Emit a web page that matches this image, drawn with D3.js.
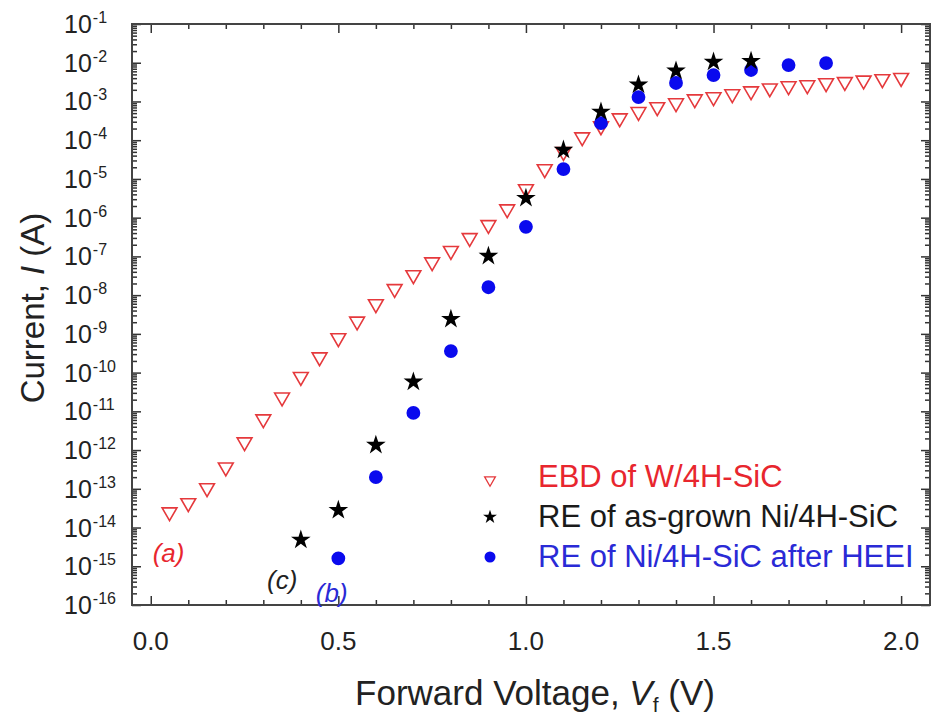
<!DOCTYPE html>
<html>
<head>
<meta charset="utf-8">
<script src="https://cdn.jsdelivr.net/npm/d3@7"></script>
<style>
  body { margin: 0; background: #fff; }
  svg text { font-family: "Liberation Sans", Arial, sans-serif; }
</style>
</head>
<body>
<svg id="chart" width="932" height="720"></svg>
<script>
// EBD of W/4H-SiC, 0.05 V steps
const ebdVoltage = [0.05, 0.10, 0.15, 0.20, 0.25, 0.30, 0.35, 0.40, 0.45, 0.50,
  0.55, 0.60, 0.65, 0.70, 0.75, 0.80, 0.85, 0.90, 0.95, 1.00,
  1.05, 1.10, 1.15, 1.20, 1.25, 1.30, 1.35, 1.40, 1.45, 1.50,
  1.55, 1.60, 1.65, 1.70, 1.75, 1.80, 1.85, 1.90, 1.95, 2.00];
const ebdCurrent = [2.5e-14, 4.3e-14, 1.05e-13, 3.6e-13, 1.6e-12, 6.3e-12, 2.3e-11, 7.8e-11, 2.5e-10, 7.8e-10,
  2.1e-9, 5.9e-9, 1.45e-8, 3.3e-8, 7.1e-8, 1.4e-7, 3.0e-7, 6.5e-7, 1.66e-6, 5.5e-6,
  1.8e-5, 5.0e-5, 1.2e-4, 2.3e-4, 3.7e-4, 5.4e-4, 7.2e-4, 9.1e-4, 1.15e-3, 1.3e-3,
  1.55e-3, 1.85e-3, 2.2e-3, 2.5e-3, 2.65e-3, 3.0e-3, 3.2e-3, 3.5e-3, 3.8e-3, 4.1e-3];

// RE of as-grown Ni/4H-SiC
const asGrownVoltage = [0.4, 0.5, 0.6, 0.7, 0.8, 0.9, 1.0, 1.1, 1.2, 1.3, 1.4, 1.5, 1.6];
const asGrownCurrent = [4.8e-15, 2.8e-14, 1.35e-12, 5.8e-11, 2.4e-9, 1.02e-7, 3.2e-6, 5.6e-5, 5.4e-4, 2.7e-3, 6.2e-3, 1.05e-2, 1.1e-2];

// RE of Ni/4H-SiC after HEEI
const heeiVoltage = [0.5, 0.6, 0.7, 0.8, 0.9, 1.0, 1.1, 1.2, 1.3, 1.4, 1.5, 1.6, 1.7, 1.8];
const heeiCurrent = [1.6e-15, 2.0e-13, 9.1e-12, 3.6e-10, 1.6e-8, 5.8e-7, 1.8e-5, 2.75e-4, 1.3e-3, 3.0e-3, 4.8e-3, 6.5e-3, 8.7e-3, 9.8e-3];

const xTickValues = [0.0, 0.5, 1.0, 1.5, 2.0];
const xTickLabels = ["0.0", "0.5", "1.0", "1.5", "2.0"];
const yExponents = [-1, -2, -3, -4, -5, -6, -7, -8, -9, -10, -11, -12, -13, -14, -15, -16];

const legendLabels = ["EBD of W/4H-SiC", "RE of as-grown Ni/4H-SiC", "RE of Ni/4H-SiC after HEEI"];
const curveTags = [
  { text: "(a)", v: 0.005, i: 1.3e-15, color: "#e8262e" },
  { text: "(c)", v: 0.31, i: 2.6e-16, color: "#222" },
  { text: "(b)", v: 0.44, i: 1.2e-16, color: "#2a2ad6" }
];

const width = 932, height = 720;
const margin = { top: 24, right: 2, bottom: 115, left: 132 };
const red = "#e5393c", blue = "#0a0aee";

const svg = d3.select("#chart");

const x = d3.scaleLinear()
  .domain([-0.05, 2.077])
  .range([margin.left, width - margin.right]);

const y = d3.scaleLog()
  .domain([1e-16, 1e-1])
  .range([height - margin.bottom, margin.top]);

const majorY = yExponents.map(e => Math.pow(10, e));
const minorY = [];
yExponents.slice(1).forEach(e => {
  for (let k = 2; k <= 9; k++) minorY.push(k * Math.pow(10, e));
});
const minorX = d3.range(0, 21).map(k => k / 10).filter(v => xTickValues.indexOf(v) < 0);

// ticks on all four sides, pointing inward
function ticks(axis, pos, values, len) {
  const g = svg.append("g")
    .attr("transform", pos)
    .call(axis.tickValues(values).tickSize(len).tickFormat(""));
  g.select(".domain").remove();
  g.selectAll("line").attr("stroke", "#333").attr("stroke-width", 1.5);
  return g;
}
const bottomY = height - margin.bottom, rightX = width - margin.right;
ticks(d3.axisBottom(x), `translate(0,${bottomY})`, xTickValues, -9);
ticks(d3.axisBottom(x), `translate(0,${bottomY})`, minorX, -5);
ticks(d3.axisTop(x), `translate(0,${margin.top})`, xTickValues, -9);
ticks(d3.axisTop(x), `translate(0,${margin.top})`, minorX, -5);
ticks(d3.axisLeft(y), `translate(${margin.left},0)`, majorY, -9);
ticks(d3.axisLeft(y), `translate(${margin.left},0)`, minorY, -5);
ticks(d3.axisRight(y), `translate(${rightX},0)`, majorY, -9);
ticks(d3.axisRight(y), `translate(${rightX},0)`, minorY, -5);

svg.append("rect")
  .attr("x", margin.left).attr("y", margin.top)
  .attr("width", rightX - margin.left).attr("height", bottomY - margin.top)
  .attr("fill", "none").attr("stroke", "#444").attr("stroke-width", 2);

// tick labels
svg.append("g").selectAll("text")
  .data(xTickValues)
  .join("text")
  .attr("x", d => x(d))
  .attr("y", 650)
  .attr("text-anchor", "middle")
  .attr("font-size", 26)
  .attr("fill", "#222")
  .text((d, i) => xTickLabels[i]);

const yLab = svg.append("g").selectAll("text")
  .data(yExponents)
  .join("text")
  .attr("x", 64)
  .attr("y", d => y(Math.pow(10, d)) + 9)
  .attr("font-size", 25)
  .attr("fill", "#222");
yLab.append("tspan").text("10");
yLab.append("tspan").attr("font-size", 16).attr("dy", -10).attr("dx", 1).text(d => String(d));

// axis titles
const xt = svg.append("text")
  .attr("x", 535).attr("y", 705)
  .attr("text-anchor", "middle")
  .attr("font-size", 35)
  .attr("fill", "#222");
xt.append("tspan").text("Forward Voltage, ");
xt.append("tspan").attr("font-style", "italic").text("V");
xt.append("tspan").attr("font-size", 21).attr("dy", 7).text("f");
xt.append("tspan").attr("dy", -7).text(" (V)");

const yt = svg.append("text")
  .attr("transform", "translate(44,308) rotate(-90)")
  .attr("text-anchor", "middle")
  .attr("font-size", 33)
  .attr("fill", "#222");
yt.append("tspan").text("Current, ");
yt.append("tspan").attr("font-style", "italic").text("I");
yt.append("tspan").text(" (A)");

// markers
const triangle = d3.symbol().type(d3.symbolTriangle);
const star = d3.symbol().type(d3.symbolStar);
const circle = d3.symbol().type(d3.symbolCircle);

svg.append("g").selectAll("path")
  .data(ebdVoltage.map((v, i) => [v, ebdCurrent[i]]))
  .join("path")
  .attr("d", triangle.size(95)())
  .attr("transform", d => `translate(${x(d[0])},${y(d[1])}) rotate(180)`)
  .attr("fill", "#fff")
  .attr("stroke", red)
  .attr("stroke-width", 1.6);

svg.append("g").selectAll("path")
  .data(heeiVoltage.map((v, i) => [v, heeiCurrent[i]]))
  .join("path")
  .attr("d", circle.size(150)())
  .attr("transform", d => `translate(${x(d[0])},${y(d[1])})`)
  .attr("fill", blue);

svg.append("g").selectAll("path")
  .data(asGrownVoltage.map((v, i) => [v, asGrownCurrent[i]]))
  .join("path")
  .attr("d", star.size(120)())
  .attr("transform", d => `translate(${x(d[0])},${y(d[1])})`)
  .attr("fill", "#000");

// curve tags
svg.append("g").selectAll("text")
  .data(curveTags)
  .join("text")
  .attr("x", d => x(d.v))
  .attr("y", d => y(d.i))
  .attr("font-size", 26)
  .attr("font-style", "italic")
  .attr("fill", d => d.color)
  .text(d => d.text);

// legend
const legendColors = ["#e8262e", "#1a1a1a", "#2a2ad6"];
const legendY = [477, 517, 557];
const lg = svg.append("g");
lg.append("path").attr("d", triangle.size(50)())
  .attr("transform", `translate(490,${legendY[0] + 3}) rotate(180)`)
  .attr("fill", "#fff").attr("stroke", red).attr("stroke-width", 1.3);
lg.append("path").attr("d", star.size(60)())
  .attr("transform", `translate(490,${legendY[1]})`).attr("fill", "#000");
lg.append("path").attr("d", circle.size(95)())
  .attr("transform", `translate(490,${legendY[2]})`).attr("fill", blue);
lg.selectAll("text")
  .data(legendLabels)
  .join("text")
  .attr("x", 538)
  .attr("y", (d, i) => legendY[i] + 10)
  .attr("font-size", 31)
  .attr("fill", (d, i) => legendColors[i])
  .text(d => d);
</script>
</body>
</html>
